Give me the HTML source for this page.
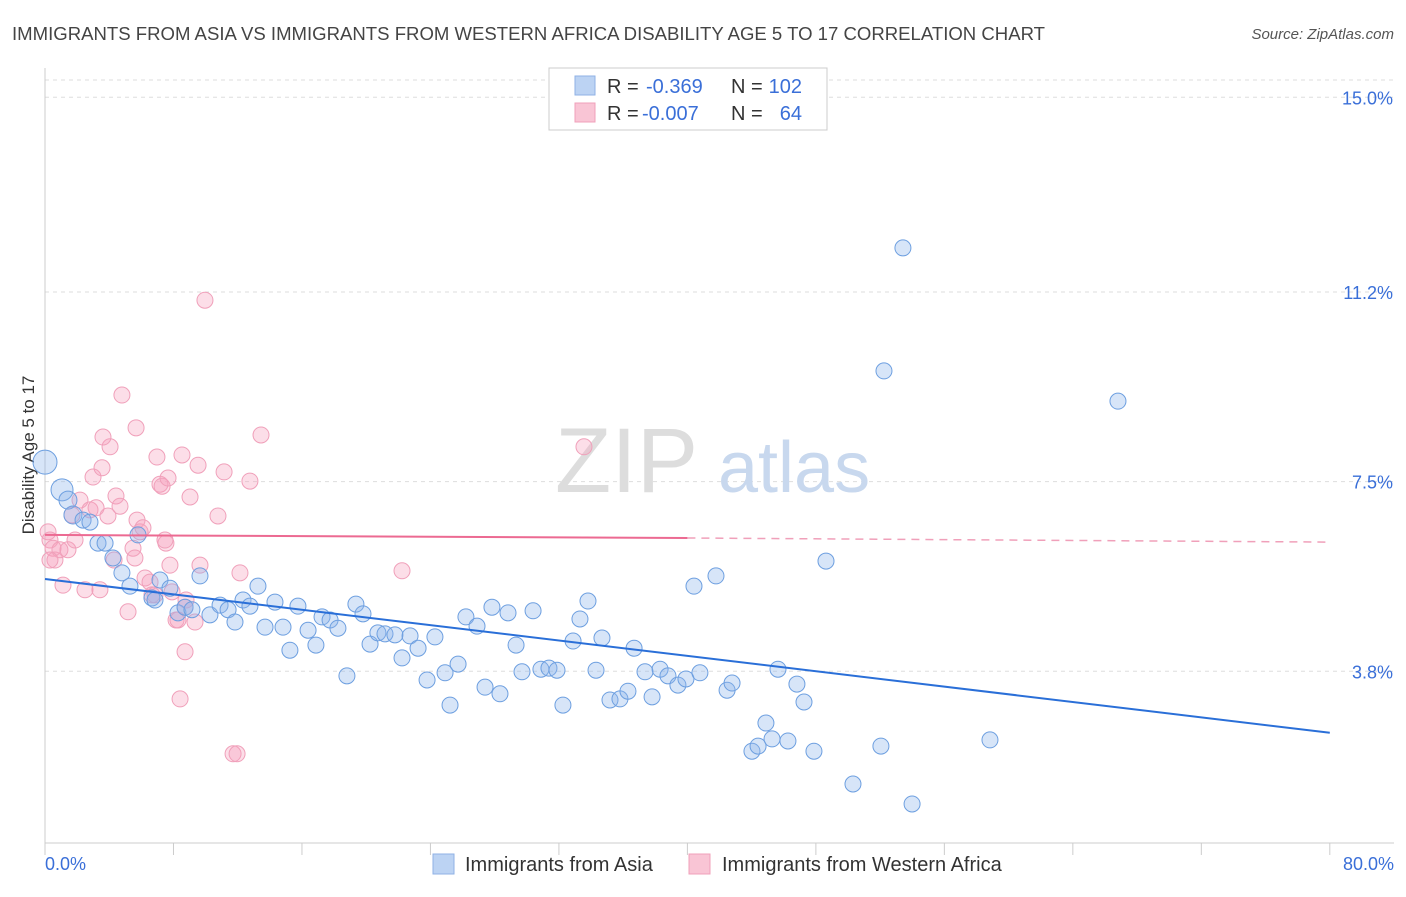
<!DOCTYPE html>
<html><head><meta charset="utf-8">
<style>
body{margin:0;background:#fff;font-family:"Liberation Sans",sans-serif;}
svg text{font-family:"Liberation Sans",sans-serif;}
</style></head>
<body>
<svg id="chart" width="1406" height="892" viewBox="0 0 1406 892" xmlns="http://www.w3.org/2000/svg">
<text x="12" y="40" font-size="18" fill="#444" textLength="1033" lengthAdjust="spacingAndGlyphs">IMMIGRANTS FROM ASIA VS IMMIGRANTS FROM WESTERN AFRICA DISABILITY AGE 5 TO 17 CORRELATION CHART</text>
<text x="1394" y="39" font-size="15" fill="#555" text-anchor="end" font-style="italic">Source: ZipAtlas.com</text>
<g id="grid"></g>
<g><text x="555" y="492" font-size="92" fill="#ddd" font-family="Liberation Serif,serif">ZIP</text><text x="718" y="492" font-size="72" fill="#c8d8ee">atlas</text></g>
<text transform="translate(34,455) rotate(-90)" font-size="17" fill="#333" text-anchor="middle">Disability Age 5 to 17</text>
<g id="pink"></g>
<g id="blue"></g>
<g id="trends"></g>
<g>
<rect x="549" y="68" width="278" height="62" fill="#fff" stroke="#ccc"/>
<rect x="575" y="76" width="20" height="19" fill="#bcd3f3" stroke="#8fb2e6"/>
<rect x="575" y="103" width="20" height="19" fill="#f9c5d5" stroke="#f0a0ba"/>
<text x="607" y="93" font-size="20" fill="#333">R =</text>
<text x="646" y="93" font-size="20" fill="#3a6fd8">-0.369</text>
<text x="731" y="93" font-size="20" fill="#333">N =</text>
<text x="802" y="93" font-size="20" fill="#3a6fd8" text-anchor="end">102</text>
<text x="607" y="120" font-size="20" fill="#333">R =</text>
<text x="642" y="120" font-size="20" fill="#3a6fd8">-0.007</text>
<text x="731" y="120" font-size="20" fill="#333">N =</text>
<text x="802" y="120" font-size="20" fill="#3a6fd8" text-anchor="end">64</text>
</g>
<g>
<rect x="433" y="854" width="21" height="20" fill="#bcd3f3" stroke="#8fb2e6"/>
<text x="465" y="871" font-size="20" fill="#333">Immigrants from Asia</text>
<rect x="689" y="854" width="21" height="20" fill="#f9c5d5" stroke="#f0a0ba"/>
<text x="722" y="871" font-size="20" fill="#333">Immigrants from Western Africa</text>
</g>
</svg>
<script>
const yTicks=[15.0,11.2,7.5,3.8];
const yTickLabels=["15.0%","11.2%","7.5%","3.8%"];
const xTickLabels=["0.0%","80.0%"];
const asiaX=[0,1.06,1.43,1.74,2.37,2.8,3.3,3.74,4.23,4.79,5.29,5.79,6.66,6.85,7.16,7.78,8.28,8.72,9.15,9.65,10.27,10.9,11.4,11.83,12.33,12.76,13.26,13.7,14.32,14.82,15.25,15.75,16.38,16.87,17.25,17.75,18.24,18.8,19.36,19.8,20.24,20.73,21.17,21.79,22.23,22.73,23.23,23.79,24.28,24.91,25.22,25.72,26.21,26.9,27.4,27.83,28.33,28.83,29.33,29.7,30.39,30.88,31.38,31.88,32.25,32.88,33.31,33.81,34.31,34.68,35.18,35.8,36.3,36.68,37.36,37.8,38.3,38.79,39.41,39.91,40.41,40.78,41.78,42.47,42.78,44.02,44.4,44.89,45.27,45.64,46.26,46.82,47.26,47.88,48.63,50.31,52.05,52.24,53.42,53.99,58.84,66.81];
const asiaY=[7.88,7.34,7.14,6.85,6.75,6.71,6.3,6.3,6.01,5.72,5.46,6.46,5.23,5.19,5.58,5.42,4.94,5.05,5.0,5.66,4.9,5.09,5.0,4.76,5.19,5.07,5.46,4.66,5.15,4.66,4.21,5.07,4.6,4.31,4.86,4.8,4.64,3.71,5.11,4.92,4.33,4.55,4.53,4.51,4.06,4.49,4.25,3.63,4.47,3.77,3.14,3.94,4.86,4.68,3.49,5.05,3.36,4.94,4.31,3.79,4.98,3.84,3.86,3.82,3.14,4.39,4.82,5.17,3.82,4.45,3.24,3.26,3.41,4.25,3.79,3.3,3.84,3.71,3.53,3.65,5.46,3.77,5.66,3.43,3.57,2.24,2.34,2.79,2.48,3.84,2.44,3.55,3.2,2.24,5.95,1.6,2.34,9.66,12.06,1.21,2.46,9.07];
const africaX=[0.19,0.31,0.5,0.62,0.93,1.12,1.43,1.68,1.87,2.18,2.49,2.8,2.99,3.18,3.42,3.55,3.92,4.05,4.3,4.42,4.67,4.79,5.17,5.48,5.6,5.73,5.92,6.1,6.23,6.54,6.66,6.85,6.97,7.16,7.29,7.53,7.66,7.78,7.91,8.16,8.53,8.72,8.72,9.03,9.34,9.53,9.65,9.96,10.77,11.15,11.71,11.96,12.14,12.76,13.45,7.47,8.28,8.41,8.78,3.61,5.67,22.23,33.56,0.31];
const africaY=[6.52,6.36,6.2,5.97,6.17,5.48,6.17,6.85,6.36,7.14,5.39,6.95,7.59,6.99,5.39,7.77,6.83,8.18,5.97,7.22,7.02,9.19,4.96,6.2,6.01,6.75,6.52,6.6,5.62,5.54,5.29,5.29,7.98,7.45,7.41,6.3,7.57,5.87,5.35,4.8,8.02,4.18,5.05,7.2,4.76,7.82,5.87,11.04,6.83,7.69,2.19,2.19,5.72,7.51,8.41,6.36,4.8,3.26,5.19,8.37,8.55,5.76,8.18,5.97];
const asiaTrend=[5.6,2.6];
const africaTrend=[6.46,6.40,6.32];
const NS="http://www.w3.org/2000/svg";
const xs=v=>45+v*16.06, ys=v=>866-v*51.25;
function mk(tag,attrs,parent){const e=document.createElementNS(NS,tag);for(const k in attrs)e.setAttribute(k,attrs[k]);parent.appendChild(e);return e;}
const grid=document.getElementById('grid');
mk('line',{x1:45,y1:80,x2:1394,y2:80,stroke:'#ddd','stroke-dasharray':'4,4'},grid);
yTicks.forEach((t,i)=>{
 const l=mk('line',{x1:45,y1:ys(t),x2:1394,y2:ys(t),stroke:'#ddd','stroke-dasharray':'4,4'},grid);
 
 
 const tx=mk('text',{x:1393,y:ys(t)+7,'font-size':18,fill:'#3a6fd8','text-anchor':'end'},grid);
 tx.textContent=yTickLabels[i];
 
 
});
mk('line',{x1:45,y1:68,x2:45,y2:843,stroke:'#ccc'},grid);
mk('line',{x1:45,y1:843,x2:1394,y2:843,stroke:'#ccc'},grid);
for(let i=0;i<=10;i++){const t=mk('line',{x1:xs(i*8),y1:843,x2:xs(i*8),y2:855,stroke:'#ccc'},grid);
 
 }
[[0,'start',45],[80,'end',1394]].forEach((d,i)=>{const tx=mk('text',{x:d[2],y:870,'font-size':18,fill:'#3a6fd8','text-anchor':d[1]},grid);tx.textContent=xTickLabels[i];
 
 });
const pink=document.getElementById('pink');
africaX.forEach((v,i)=>{const c=mk('circle',{cx:xs(v),cy:ys(africaY[i]),r:8,fill:'rgba(245,160,190,0.35)',stroke:'#f0a0ba','stroke-width':1},pink);
 
 });
const blue=document.getElementById('blue');
asiaX.forEach((v,i)=>{const r=i==0?12:(i==1?11:(i<4?9:8));const c=mk('circle',{cx:xs(v),cy:ys(asiaY[i]),r:r,fill:'rgba(140,180,235,0.35)',stroke:'#6d9fe0','stroke-width':1},blue);
 
 });
const tr=document.getElementById('trends');
const bl=mk('line',{x1:xs(0),y1:ys(asiaTrend[0]),x2:xs(80),y2:ys(asiaTrend[1]),stroke:'#2a6fd8','stroke-width':2},tr);


const pl=mk('line',{x1:xs(0),y1:ys(africaTrend[0]),x2:xs(40),y2:ys(africaTrend[1]),stroke:'#ec6a92','stroke-width':2},tr);


const pd=mk('line',{x1:xs(40),y1:ys(africaTrend[1]),x2:xs(80),y2:ys(africaTrend[2]),stroke:'#f0a0ba','stroke-width':1.5,'stroke-dasharray':'8,6'},tr);


</script>
</body></html>
